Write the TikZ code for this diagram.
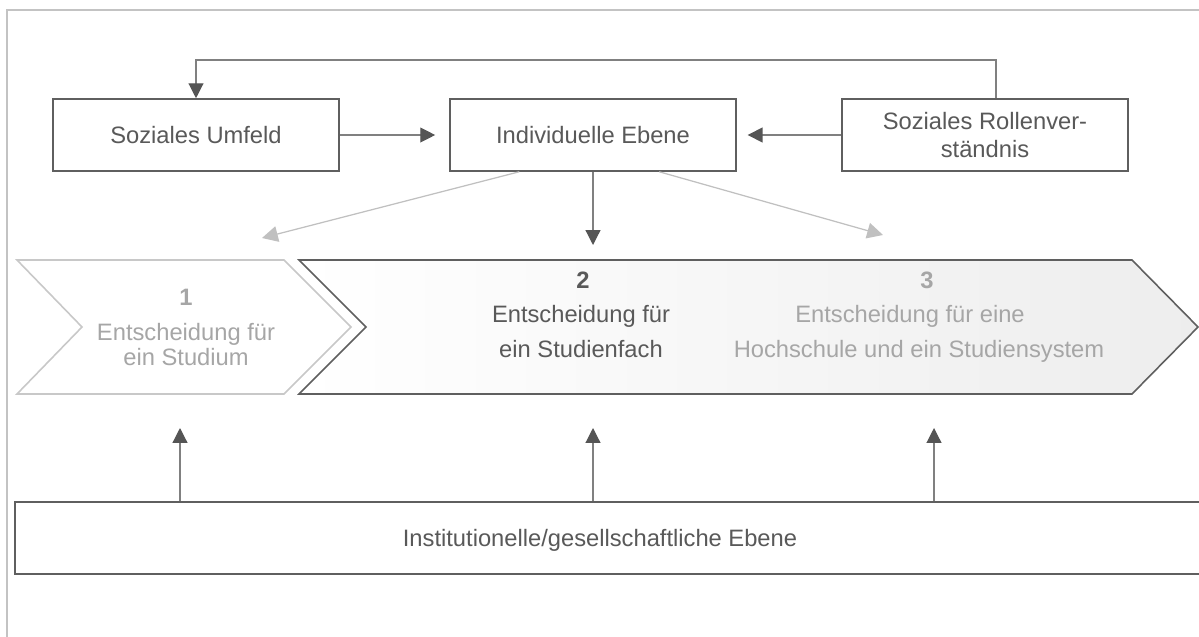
\documentclass[tikz,border=0pt]{standalone}
\usepackage{fontspec}
\setmainfont{Liberation Sans}
\usetikzlibrary{arrows.meta,calc}
\definecolor{framec}{HTML}{C3C3C3}
\definecolor{boxc}{HTML}{5F5F5F}
\definecolor{txtd}{HTML}{595959}
\definecolor{txtl}{HTML}{A6A6A6}
\definecolor{chevl}{HTML}{C8C8C8}
\definecolor{linec}{HTML}{808080}
\definecolor{headc}{HTML}{555555}
\definecolor{grayarr}{HTML}{C0C0C0}
\tikzset{
  x=0.02cm, y=-0.02cm,
  every node/.style={font=\fontsize{13.5}{15.9}\selectfont},
  topbox/.style={draw=boxc, line width=0.9pt, fill=white, text=txtd, align=center,
    minimum width=5.72cm, minimum height=1.44cm, inner sep=0pt},
  conn/.style={draw=linec, line width=0.7pt, -{Triangle[width=8.5pt,length=8.5pt,color=headc]}},
  lightconn/.style={draw=grayarr, line width=0.7pt, -{Triangle[width=9pt,length=9pt,color=grayarr]}},
  dtext/.style={text=txtd, anchor=base, inner sep=0pt},
  ltext/.style={text=txtl, anchor=base, inner sep=0pt},
}
\begin{document}
\begin{tikzpicture}
\useasboundingbox (0,0) rectangle (1199,636);
\fill[white] (0,0) rectangle (1199,636);
% outer frame
\draw[framec, line width=1.1pt] (7,645) -- (7,10) -- (1210,10);

% top boxes
\node[topbox] (umf) at (196,135) {Soziales Umfeld};
\node[topbox] (ind) at (593,135) {Individuelle Ebene};
\node[topbox] (rol) at (985,135) {Soziales Rollenver-\\ständnis};

% chevrons
\coordinate (c1a) at (17,260);
\coordinate (c1b) at (284,260);
\coordinate (c1c) at (351,327);
\coordinate (c1d) at (284,394);
\coordinate (c1e) at (17,394);
\coordinate (c1f) at (82,327);
\draw[chevl, line width=0.9pt, fill=white] (c1a) -- (c1b) -- (c1c) -- (c1d) -- (c1e) -- (c1f) -- cycle;

\coordinate (c2a) at (299,260);
\coordinate (c2b) at (1132,260);
\coordinate (c2c) at (1198,327);
\coordinate (c2d) at (1132,394);
\coordinate (c2e) at (299,394);
\coordinate (c2f) at (366,327);
\draw[boxc, line width=0.9pt, left color=white, right color=black!7]
  (c2a) -- (c2b) -- (c2c) -- (c2d) -- (c2e) -- (c2f) -- cycle;

% chevron texts
\node[ltext, font=\fontsize{13.5}{15.9}\selectfont\bfseries] (n1) at (186,305) {1};
\node[ltext] (t1a) at (186,340) {Entscheidung für};
\node[ltext] (t1b) at (186,365) {ein Studium};

\node[dtext, font=\fontsize{13.5}{15.9}\selectfont\bfseries] (n2) at (583,288) {2};
\node[dtext] (t2a) at (581,322) {Entscheidung für};
\node[dtext] (t2b) at (581,357) {ein Studienfach};

\node[ltext, font=\fontsize{13.5}{15.9}\selectfont\bfseries] (n3) at (927,288) {3};
\node[ltext] (t3a) at (910,322) {Entscheidung für eine};
\node[ltext] (t3b) at (919,357) {Hochschule und ein Studiensystem};

% bottom box
\node[draw=boxc, line width=0.9pt, fill=white, minimum width=24cm, minimum height=1.44cm,
  inner sep=0pt, label={[text=txtd, xshift=-0.3cm, yshift=-0.05cm]center:Institutionelle/gesellschaftliche Ebene}]
  (inst) at (615,538) {};

% connectors
\coordinate (fb) at (996,60);
\draw[conn] (rol.north -| fb) |- (umf.north |- fb) -- (umf.north);
\draw[conn, shorten >=8pt] (umf.east) -- (ind.west);
\draw[conn, shorten >=6.2pt] (rol.west) -- (ind.east);
\coordinate (dtip) at (593,245);
\draw[conn] (ind.south) -- (dtip);
\coordinate (lg) at (262,238);
\coordinate (rg) at (883,235);
\draw[lightconn] ($(ind.south west)+(70,0)$) -- (lg);
\draw[lightconn] ($(ind.south west)+(210,0)$) -- (rg);

\coordinate (u1) at (180,428);
\coordinate (u2) at (593,428);
\coordinate (u3) at (934,428);
\draw[conn] (inst.north -| u1) -- (u1);
\draw[conn] (inst.north -| u2) -- (u2);
\draw[conn] (inst.north -| u3) -- (u3);
\end{tikzpicture}
\end{document}
